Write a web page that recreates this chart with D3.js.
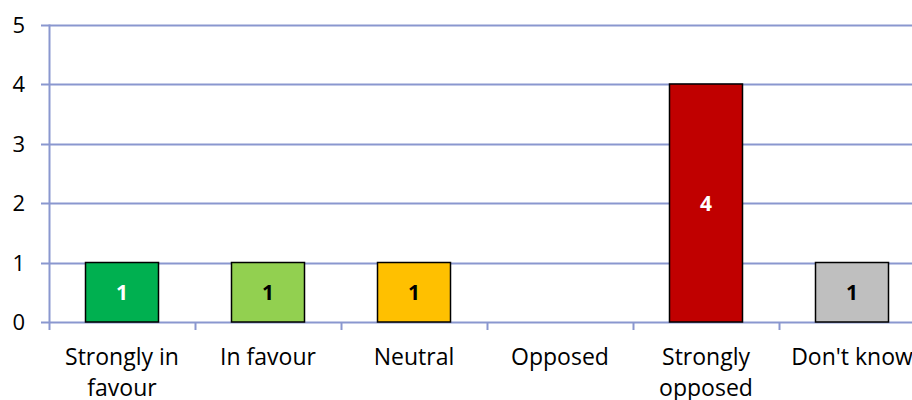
<!DOCTYPE html>
<html>
<head>
<meta charset="utf-8">
<script src="https://cdn.jsdelivr.net/npm/d3@7"></script>
<style>
  body { margin: 0; background: #fff; }
</style>
</head>
<body>
<script>
// ---- data ----
var categories = ["Strongly in favour", "In favour", "Neutral", "Opposed", "Strongly opposed", "Don't know"];
var counts = [1, 1, 1, 0, 4, 1];
var bar_cols = ["#00b050", "#92d050", "#ffc000", "#c00000", "#c00000", "#bfbfbf"];
var label_cols = ["white", "black", "black", "black", "white", "black"];
var y_ticks = [0, 1, 2, 3, 4, 5];
var label_lines = [["Strongly in", "favour"], ["In favour"], ["Neutral"], ["Opposed"], ["Strongly", "opposed"], ["Don't know"]];

var width = 912,
    height = 400;

var grid_col = "#8a97cf",
    font = '"Open Sans", sans-serif';

var x0 = 49, x1 = 925,
    y0 = 322, y1 = 24.5;

var svg = d3.select("body")
    .append("svg")
    .attr("width", width)
    .attr("height", height);

var xScale = d3.scaleBand()
    .domain(categories)
    .range([x0, x1])
    .paddingInner(0.5)
    .paddingOuter(0.25);

var yScale = d3.scaleLinear()
    .domain([0, 5])
    .range([y0, y1]);

// gridlines + y ticks
svg.append("g").selectAll("line")
    .data(y_ticks)
    .enter().append("line")
    .attr("x1", x0 - 8)
    .attr("x2", width)
    .attr("y1", d => Math.round(yScale(d)) + 0.5)
    .attr("y2", d => Math.round(yScale(d)) + 0.5)
    .attr("stroke", grid_col)
    .attr("stroke-width", 2);

svg.append("g").selectAll("text")
    .data(y_ticks)
    .enter().append("text")
    .text(d => d)
    .attr("x", 25)
    .attr("y", d => yScale(d) + 8)
    .attr("text-anchor", "end")
    .attr("font-family", font)
    .attr("font-size", "22px")
    .attr("fill", "black");

// y axis line
svg.append("line")
    .attr("x1", x0 + 0.5).attr("x2", x0 + 0.5)
    .attr("y1", y1).attr("y2", y0 + 8)
    .attr("stroke", grid_col)
    .attr("stroke-width", 2);

// category ticks
var step = xScale.step();
svg.append("g").selectAll("line")
    .data(categories.slice(1))
    .enter().append("line")
    .attr("x1", d => xScale(d) - step * 0.25 + 0.5)
    .attr("x2", d => xScale(d) - step * 0.25 + 0.5)
    .attr("y1", y0)
    .attr("y2", y0 + 8)
    .attr("stroke", grid_col)
    .attr("stroke-width", 2);

// ==== Bars ====
svg.append("g").selectAll("rect")
    .data(categories)
    .enter().append("rect")
    .filter((d, i) => counts[i] > 0)
    .attr("x", d => xScale(d))
    .attr("y", (d) => yScale(counts[categories.indexOf(d)]))
    .attr("width", xScale.bandwidth())
    .attr("height", d => y0 - yScale(counts[categories.indexOf(d)]))
    .attr("fill", d => bar_cols[categories.indexOf(d)])
    .attr("stroke", "black")
    .attr("stroke-width", 1.5);

svg.append("g").selectAll("text")
    .data(categories)
    .enter().append("text")
    .filter((d, i) => counts[i] > 0)
    .text(d => counts[categories.indexOf(d)])
    .attr("x", d => xScale(d) + xScale.bandwidth() / 2)
    .attr("y", d => (yScale(counts[categories.indexOf(d)]) + y0) / 2 + 8)
    .attr("text-anchor", "middle")
    .attr("font-family", font)
    .attr("font-size", "21px")
    .attr("font-weight", 700)
    .attr("fill", d => label_cols[categories.indexOf(d)]);

// category labels
var cat_g = svg.append("g").selectAll("text")
    .data(categories)
    .enter().append("text")
    .attr("x", d => xScale(d) + xScale.bandwidth() / 2)
    .attr("y", 365)
    .attr("text-anchor", "middle")
    .attr("font-family", font)
    .attr("font-size", "23px")
    .attr("fill", "black");

cat_g.each(function(d, i) {
    var t = d3.select(this);
    label_lines[i].forEach(function(line, j) {
        t.append("tspan")
            .attr("x", xScale(d) + xScale.bandwidth() / 2)
            .attr("dy", j == 0 ? 0 : 31)
            .text(line);
    });
});
</script>
</body>
</html>
